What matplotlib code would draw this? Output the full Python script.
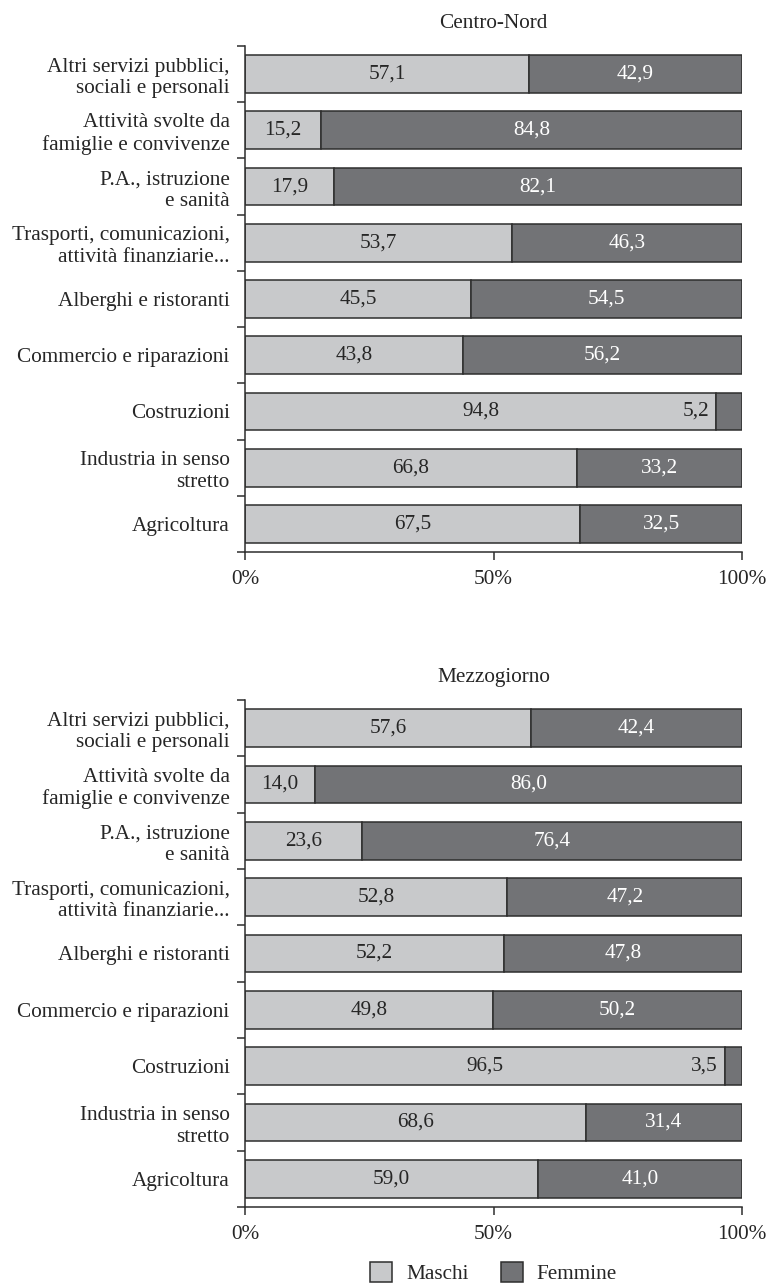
import matplotlib
matplotlib.use("Agg")
import matplotlib.pyplot as plt
from matplotlib.patches import Patch
from matplotlib.ticker import FixedLocator, FuncFormatter

plt.rcParams["font.family"] = ["Liberation Serif", "DejaVu Serif"]

# Economic sectors, listed top to bottom
sectors = [
    "Altri servizi pubblici,\nsociali e personali",
    "Attività svolte da\nfamiglie e convivenze",
    "P.A., istruzione\ne sanità",
    "Trasporti, comunicazioni,\nattività finanziarie...",
    "Alberghi e ristoranti",
    "Commercio e riparazioni",
    "Costruzioni",
    "Industria in senso\nstretto",
    "Agricoltura",
]

# Share of employed by sex (%)
nord_maschi = [57.1, 15.2, 17.9, 53.7, 45.5, 43.8, 94.8, 66.8, 67.5]
nord_femmine = [42.9, 84.8, 82.1, 46.3, 54.5, 56.2, 5.2, 33.2, 32.5]
sud_maschi = [57.6, 14.0, 23.6, 52.8, 52.2, 49.8, 96.5, 68.6, 59.0]
sud_femmine = [42.4, 86.0, 76.4, 47.2, 47.8, 50.2, 3.5, 31.4, 41.0]

regions = ["Centro-Nord", "Mezzogiorno"]
x_ticks = [0, 50, 100]

C_LIGHT = "#c8c9cb"
C_DARK = "#727376"
C_EDGE = "#2e2e2e"
C_TEXT = "#262626"
FS = 15.3

W, H = 767, 1283
fig = plt.figure(figsize=(W / 100, H / 100), dpi=100)


def fmt(v):
    return f"{v:.1f}".replace(".", ",")


def panel(rect, title, maschi, femmine):
    ax = fig.add_axes(rect)
    n = len(sectors)
    y = list(range(n))
    ax.barh(y, maschi, height=0.67, color=C_LIGHT, edgecolor=C_EDGE, linewidth=1.1)
    ax.barh(y, femmine, left=maschi, height=0.67, color=C_DARK,
            edgecolor=C_EDGE, linewidth=1.1)
    for yi, m, f in zip(y, maschi, femmine):
        ax.text(m / 2, yi, fmt(m), ha="center", va="center",
                fontsize=FS, color=C_TEXT)
        if f < 10:
            ax.text(m - 1.4, yi, fmt(f), ha="right", va="center",
                    fontsize=FS, color=C_TEXT)
        else:
            ax.text(m + f / 2, yi, fmt(f), ha="center", va="center",
                    fontsize=FS, color="white")

    ax.set_xlim(0, 100)
    ax.set_ylim(n - 0.5, -0.5)

    ax.spines["top"].set_visible(False)
    ax.spines["right"].set_visible(False)
    for s in ("left", "bottom"):
        ax.spines[s].set_color(C_EDGE)
        ax.spines[s].set_linewidth(1.1)

    ax.set_yticks(y)
    ax.set_yticklabels(sectors, fontsize=FS, color=C_TEXT,
                       linespacing=1.2, ha="right")
    ax.tick_params(axis="y", which="major", length=0, pad=11)
    ax.yaxis.set_minor_locator(FixedLocator([i - 0.5 for i in range(n + 1)]))
    ax.tick_params(axis="y", which="minor", length=6, width=1.1,
                   color=C_EDGE, direction="out")

    ax.set_xticks(x_ticks)
    ax.xaxis.set_major_formatter(FuncFormatter(lambda v, p: f"{v:.0f}%"))
    ax.tick_params(axis="x", length=6, width=1.1, color=C_EDGE,
                   labelsize=FS, labelcolor=C_TEXT, pad=7)

    ax.set_title(title, fontsize=FS, color=C_TEXT, pad=13)
    return ax


left = 245 / W
width = (742 - 245) / W
panel([left, 1 - 552 / H, width, (552 - 46) / H], regions[0], nord_maschi, nord_femmine)
panel([left, 1 - 1207 / H, width, (1207 - 700) / H], regions[1], sud_maschi, sud_femmine)

handles = [
    Patch(facecolor=C_LIGHT, edgecolor=C_EDGE, linewidth=1.1, label="Maschi"),
    Patch(facecolor=C_DARK, edgecolor=C_EDGE, linewidth=1.1, label="Femmine"),
]
fig.legend(handles=handles, loc="center", ncol=2, frameon=False,
           bbox_to_anchor=(493.5 / W, 1 - 1273 / H), fontsize=FS,
           handlelength=1.05, handleheight=1.05, handletextpad=0.65,
           columnspacing=1.5, labelcolor=C_TEXT)

fig.savefig("out.png", dpi=100, facecolor="white")
